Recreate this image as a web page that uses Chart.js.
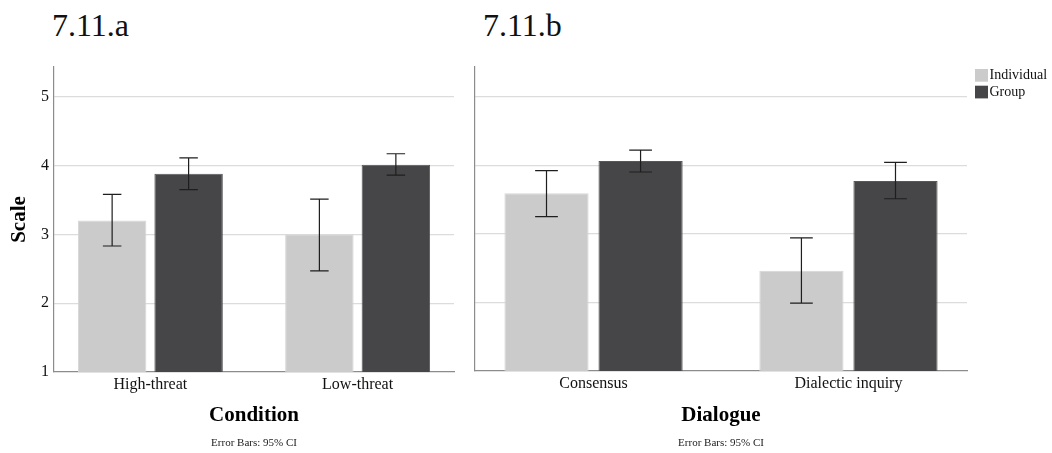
<!DOCTYPE html>
<html>
<head>
<meta charset="utf-8">
<script src="https://cdn.jsdelivr.net/npm/chart.js@4.4.0/dist/chart.umd.min.js"></script>
<style>
  body { margin: 0; background: #fff; }
  #wrap { position: relative; width: 1052px; height: 453px; overflow: hidden; font-family: "Liberation Serif", "Times New Roman", serif; }
  canvas { position: absolute; top: 0; }
  .panel-title { position: absolute; top: 9px; font-size: 32px; line-height: 32px; color: #111; }
</style>
</head>
<body>
<div id="wrap">
  <div class="panel-title" style="left:52px">7.11.a</div>
  <div class="panel-title" style="left:483px">7.11.b</div>
  <canvas id="chartA" width="460" height="453" style="left:0"></canvas>
  <canvas id="chartB" width="592" height="453" style="left:460px"></canvas>
</div>
<script>
// DATA
const seriesNames = ["Individual", "Group"];

const conditionLabels = ["High-threat", "Low-threat"];
const condIndividual = [3.20, 3.00];
const condIndividualLo = [2.83, 2.47];
const condIndividualHi = [3.58, 3.51];
const condGroup = [3.88, 4.01];
const condGroupLo = [3.65, 3.86];
const condGroupHi = [4.11, 4.17];

const dialogueLabels = ["Consensus", "Dialectic inquiry"];
const dlgIndividual = [3.59, 2.46];
const dlgIndividualLo = [3.25, 1.99];
const dlgIndividualHi = [3.92, 2.94];
const dlgGroup = [4.06, 3.77];
const dlgGroupLo = [3.90, 3.51];
const dlgGroupHi = [4.22, 4.04];

const yMin = 1, yMax = 5.43, yStep = 1;
const footnoteText = "Error Bars: 95% CI";

const FONT = "'Liberation Serif', 'Times New Roman', serif";
const LIGHT = "#cbcbcb", DARK = "#464648";
const AXIS = "#8c8c8c", GRID = "#dcdcdc";

// ERROR BARS (drawn from the y scale)
const errorBars = {
  id: "errorBars",
  afterDatasetsDraw(chart) {
    const ctx = chart.ctx;
    const y = chart.scales.y;
    ctx.save();
    ctx.strokeStyle = "#1e1e1e";
    ctx.lineWidth = 1.2;
    chart.data.datasets.forEach((ds, i) => {
      chart.getDatasetMeta(i).data.forEach((bar, j) => {
        const top = y.getPixelForValue(ds.hi[j]);
        const bot = y.getPixelForValue(ds.lo[j]);
        const cap = bar.width * 0.135;
        ctx.beginPath();
        ctx.moveTo(bar.x, top); ctx.lineTo(bar.x, bot);
        ctx.moveTo(bar.x - cap, top); ctx.lineTo(bar.x + cap, top);
        ctx.moveTo(bar.x - cap, bot); ctx.lineTo(bar.x + cap, bot);
        ctx.stroke();
      });
    });
    ctx.restore();
  }
};

// FOOTNOTE under each panel
const footnote = {
  id: "footnote",
  afterDraw(chart) {
    const ctx = chart.ctx;
    const a = chart.chartArea;
    ctx.save();
    ctx.font = "11px " + FONT;
    ctx.fillStyle = "#222";
    ctx.textAlign = "center";
    ctx.textBaseline = "middle";
    ctx.fillText(footnoteText, (a.left + a.right) / 2, 443.5);
    ctx.restore();
  }
};

// SMALL LEGEND at top right (panel b only)
const sideLegend = {
  id: "sideLegend",
  afterDraw(chart) {
    const ctx = chart.ctx;
    ctx.save();
    ctx.font = "14px " + FONT;
    ctx.textBaseline = "middle";
    chart.data.datasets.forEach((ds, i) => {
      const y0 = 69 + i * 16.7;
      ctx.fillStyle = ds.backgroundColor;
      ctx.fillRect(515, y0, 13, 12.7);
      ctx.fillStyle = "#111";
      ctx.fillText(ds.label, 529.5, y0 + 6.5);
    });
    ctx.restore();
  }
};

function toPoints(values) {
  return values.map((v, i) => ({ x: i, y: v }));
}

function buildChart(id, labels, indiv, indivLo, indivHi, group, groupLo, groupHi, opts) {
  return new Chart(document.getElementById(id), {
    type: "bar",
    data: {
      datasets: [
        { label: seriesNames[0], data: toPoints(indiv), lo: indivLo, hi: indivHi, backgroundColor: LIGHT, borderColor: "#d6d6d6", borderWidth: 1 },
        { label: seriesNames[1], data: toPoints(group), lo: groupLo, hi: groupHi, backgroundColor: DARK, borderColor: "#58585a", borderWidth: 1 }
      ]
    },
    options: {
      responsive: false,
      animation: false,
      categoryPercentage: 0.738,
      barPercentage: 0.895,
      layout: { padding: { top: 67, right: opts.padRight, left: 0, bottom: 0 } },
      plugins: { legend: { display: false }, tooltip: { enabled: false } },
      scales: {
        x: {
          type: "linear",
          min: -0.465,
          max: 1.465,
          offset: false,
          grid: { display: false, drawTicks: false },
          border: { color: AXIS, width: 1.2 },
          afterBuildTicks: s => { s.ticks = labels.map((_, i) => ({ value: i })); },
          ticks: { callback: v => labels[v], font: { family: FONT, size: 16 }, color: "#111", padding: 3, maxRotation: 0, autoSkip: false },
          title: { display: true, text: opts.xTitle, color: "#000", font: { family: FONT, size: 21, weight: "bold" }, padding: { top: 0, bottom: 24.4 } },
          afterFit: s => { s.height = opts.xHeight; }
        },
        y: {
          min: yMin,
          max: yMax,
          grid: { color: c => (c.tick && c.tick.value === yMin ? "rgba(0,0,0,0)" : GRID), lineWidth: 1.2, drawTicks: false },
          border: { color: AXIS, width: 1.2 },
          ticks: { display: opts.showYTicks, stepSize: yStep, includeBounds: false, padding: 5, font: { family: FONT, size: 16 }, color: "#111" },
          title: { display: !!opts.yTitle, text: opts.yTitle || "", color: "#000", font: { family: FONT, size: 21, weight: "bold" }, padding: { top: 6.9, bottom: 0 } },
          afterFit: s => { s.width = opts.yWidth; }
        }
      }
    },
    plugins: opts.legend ? [errorBars, footnote, sideLegend] : [errorBars, footnote]
  });
}

// PANEL a
buildChart("chartA", conditionLabels, condIndividual, condIndividualLo, condIndividualHi,
  condGroup, condGroupLo, condGroupHi,
  { xTitle: "Condition", yTitle: "Scale", showYTicks: true, yWidth: 54, xHeight: 81, padRight: 6, legend: false });

// PANEL b
buildChart("chartB", dialogueLabels, dlgIndividual, dlgIndividualLo, dlgIndividualHi,
  dlgGroup, dlgGroupLo, dlgGroupHi,
  { xTitle: "Dialogue", showYTicks: false, yWidth: 15, xHeight: 82, padRight: 85, legend: true });
</script>
</body>
</html>
